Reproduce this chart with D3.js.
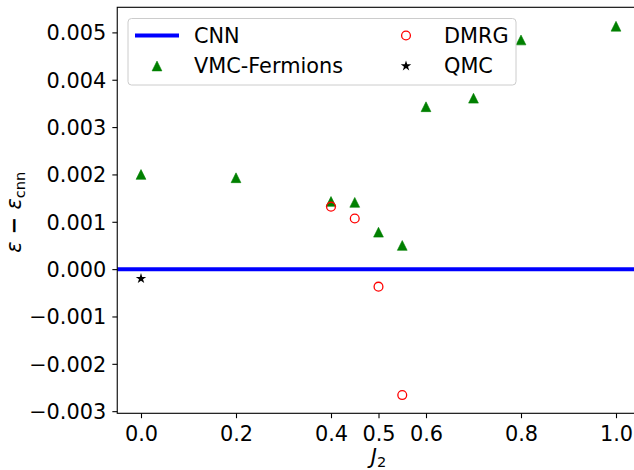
<!DOCTYPE html>
<html>
<head>
<meta charset="utf-8">
<script src="https://cdn.jsdelivr.net/npm/d3@7"></script>
<style>
  body { margin: 0; background: #fff; }
  text { font-family: "DejaVu Sans", sans-serif; }
</style>
</head>
<body>
<div id="chart"></div>
<script>
// values
var vmcJ2 = [0.0, 0.2, 0.4, 0.45, 0.5, 0.55, 0.6, 0.7, 0.8, 1.0];
var vmcDiff = [0.00200, 0.00193, 0.00143, 0.00141, 0.00078, 0.00050, 0.00343, 0.00361, 0.00484, 0.00513];
var dmrgJ2 = [0.4, 0.45, 0.5, 0.55];
var dmrgDiff = [0.00132, 0.00107, -0.00037, -0.00266];
var qmcJ2 = [0.0];
var qmcDiff = [-0.00020];
var cnnDiff = 0;

var xTicks = [0.0, 0.2, 0.4, 0.5, 0.6, 0.8, 1.0];
var yTicks = [-0.003, -0.002, -0.001, 0.000, 0.001, 0.002, 0.003, 0.004, 0.005];

var W = 634, H = 470;
var fs = 20.83;
// axes box (right edge runs past the picture, as in the original)
var axL = 117.25, axR = 639.75, axT = 7.3, axB = 413.3;

var svg = d3.select("#chart").append("svg")
    .attr("width", W).attr("height", H);

var x = d3.scaleLinear().domain([-0.05, 1.05]).range([axL, axR]);
var y = d3.scaleLinear().domain([-0.003045, 0.00553]).range([axB, axT]);

// triangle like matplotlib '^' (width = height)
function tri(s) {
    var h = s / 2;
    return "M0," + (-h) + "L" + (-h) + "," + h + "L" + h + "," + h + "Z";
}
var star = d3.symbol().type(d3.symbolStar).size(34);

var plot = svg.append("g");

// CNN reference line
plot.append("line")
    .attr("x1", axL).attr("x2", axR)
    .attr("y1", y(cnnDiff)).attr("y2", y(cnnDiff))
    .attr("stroke", "#0000ff").attr("stroke-width", 4);

plot.selectAll(".vmc").data(vmcJ2).enter().append("path")
    .attr("class", "vmc")
    .attr("d", tri(9.8))
    .attr("transform", function(d, i) { return "translate(" + x(d) + "," + y(vmcDiff[i]) + ")"; })
    .attr("fill", "#008000").attr("stroke", "#008000").attr("stroke-width", 0.6);

plot.selectAll(".dmrg").data(dmrgJ2).enter().append("circle")
    .attr("class", "dmrg")
    .attr("cx", function(d) { return x(d); })
    .attr("cy", function(d, i) { return y(dmrgDiff[i]); })
    .attr("r", 4.4)
    .attr("fill", "none").attr("stroke", "#ff0000").attr("stroke-width", 1.3);

plot.selectAll(".qmc").data(qmcJ2).enter().append("path")
    .attr("class", "qmc")
    .attr("d", star)
    .attr("transform", function(d, i) { return "translate(" + x(d) + "," + y(qmcDiff[i]) + ")"; })
    .attr("fill", "#000");

// axes
var xAxis = svg.append("g")
    .attr("transform", "translate(0," + axB + ")")
    .call(d3.axisBottom(x).tickValues(xTicks).tickFormat(d3.format(".1f")).tickSize(4.9).tickSizeOuter(0));
xAxis.select(".domain").remove();
xAxis.selectAll(".tick line").attr("stroke-width", 1.1);
xAxis.selectAll("text")
    .attr("font-size", fs).attr("fill", "#000")
    .attr("y", 28).attr("dy", 0);

var yAxis = svg.append("g")
    .attr("transform", "translate(" + axL + ",0)")
    .call(d3.axisLeft(y).tickValues(yTicks).tickFormat(d3.format(".3f")).tickSize(4.9).tickSizeOuter(0));
yAxis.select(".domain").remove();
yAxis.selectAll(".tick line").attr("stroke-width", 1.1);
yAxis.selectAll("text")
    .attr("font-size", fs).attr("fill", "#000")
    .attr("x", -11).attr("dy", "0.36em");

// frame
svg.append("rect")
    .attr("x", axL).attr("y", axT)
    .attr("width", axR - axL).attr("height", axB - axT)
    .attr("fill", "none").attr("stroke", "#000").attr("stroke-width", 1.1);

// axis labels
var xl = svg.append("text")
    .attr("x", (axL + axR) / 2).attr("y", 464)
    .attr("text-anchor", "middle").attr("font-size", fs);
xl.append("tspan").attr("font-style", "italic").text("J");
xl.append("tspan").attr("font-size", fs * 0.7).attr("dy", 3).text("2");

var yl = svg.append("text")
    .attr("transform", "translate(21," + ((axT + axB) / 2 + 2) + ") rotate(-90)")
    .attr("text-anchor", "middle").attr("font-size", fs);
yl.append("tspan").attr("font-style", "italic").text("ε");
yl.append("tspan").attr("font-weight", "bold").text(" − ");
yl.append("tspan").attr("font-style", "italic").text("ε");
yl.append("tspan").attr("font-size", fs * 0.7).attr("dy", 4).text("cnn");

// legend
var lg = svg.append("g");
lg.append("rect")
    .attr("x", 128).attr("y", 18.5).attr("width", 388).attr("height", 66.5)
    .attr("rx", 3.5).attr("fill", "#fff").attr("fill-opacity", 0.8)
    .attr("stroke", "#cccccc").attr("stroke-width", 1);

var row1 = 35.5, row2 = 66;
lg.append("line")
    .attr("x1", 135).attr("x2", 179).attr("y1", row1).attr("y2", row1)
    .attr("stroke", "#0000ff").attr("stroke-width", 4);
lg.append("path").attr("d", tri(9.8))
    .attr("transform", "translate(157," + row2 + ")")
    .attr("fill", "#008000").attr("stroke", "#008000").attr("stroke-width", 0.6);
lg.append("circle").attr("cx", 406).attr("cy", row1).attr("r", 4.4)
    .attr("fill", "none").attr("stroke", "#ff0000").attr("stroke-width", 1.3);
lg.append("path").attr("d", star)
    .attr("transform", "translate(406," + row2 + ")").attr("fill", "#000");

var legendText = [["CNN", 194, row1], ["VMC-Fermions", 194, row2], ["DMRG", 444, row1], ["QMC", 444, row2]];
lg.selectAll(".lt").data(legendText).enter().append("text")
    .attr("class", "lt")
    .attr("x", function(d) { return d[1]; })
    .attr("y", function(d) { return d[2]; })
    .attr("dy", "0.36em")
    .attr("font-size", fs)
    .text(function(d) { return d[0]; });
</script>
</body>
</html>
